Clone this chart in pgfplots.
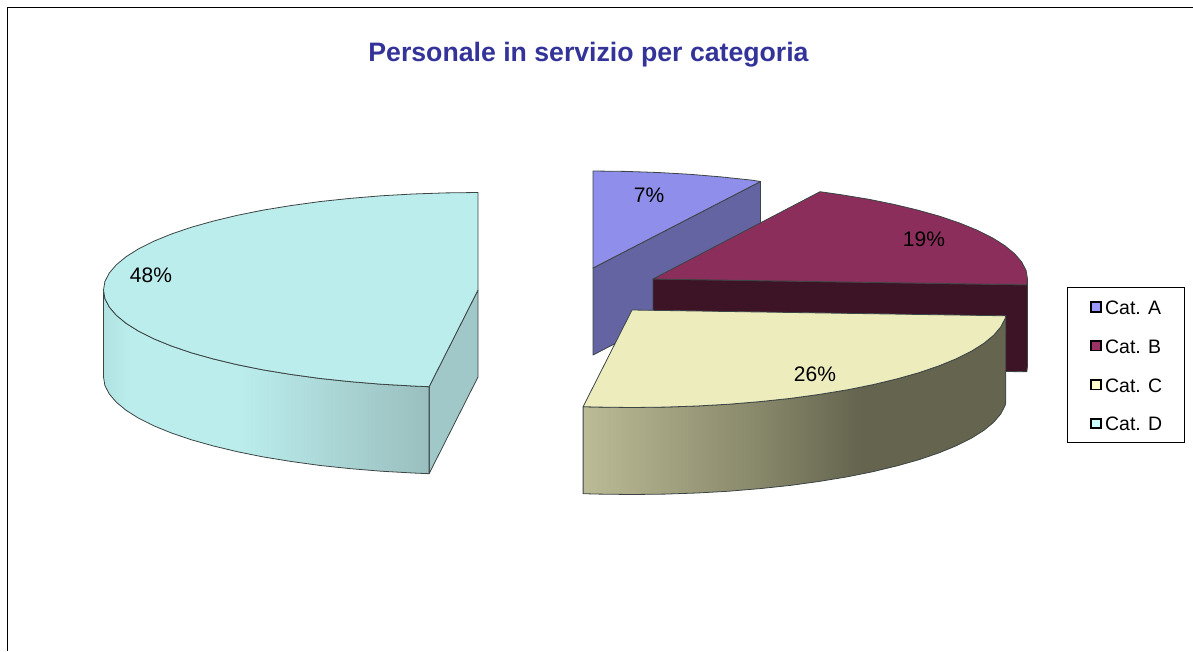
\documentclass[border=0pt]{standalone}
\usepackage{pgfplots}
\pgfplotsset{compat=1.18}
\usepackage{fontspec}
\setmainfont{Liberation Sans}
\definecolor{topA}{HTML}{8F8FEB}
\definecolor{sideA}{HTML}{6464A3}
\definecolor{topB}{HTML}{8B2E5C}
\definecolor{sideB}{HTML}{3D1426}
\definecolor{topC}{HTML}{ECECBD}
\definecolor{topD}{HTML}{BBEDED}
\definecolor{faceD}{HTML}{A1C8C8}
\definecolor{legA}{HTML}{9999FF}
\definecolor{legB}{HTML}{993366}
\definecolor{legC}{HTML}{FFFFCC}
\definecolor{legD}{HTML}{CCFFFF}
\definecolor{edge}{HTML}{3C4444}
\definecolor{titleblue}{HTML}{333399}
\definecolor{dL}{HTML}{B0E2E2}
\definecolor{dD}{HTML}{9ABEBE}
\pgfdeclarehorizontalshading{sideDsh}{100bp}{
  color(0bp)=(dL); color(25bp)=(dL);
  color(29bp)=(topD); color(46bp)=(topD);
  color(75bp)=(dD); color(100bp)=(dD)}
\definecolor{cL}{HTML}{BBBB96}
\definecolor{cM}{HTML}{8B8B6D}
\definecolor{cD}{HTML}{64644F}
\pgfdeclarehorizontalshading{sideCsh}{100bp}{
  color(0bp)=(cL); color(25bp)=(cL);
  color(44.5bp)=(cM); color(58bp)=(cD);
  color(75bp)=(cD); color(100bp)=(cD)}
\begin{document}
\begin{tikzpicture}
\begin{axis}[
  width=894.75pt, height=488.25pt, scale only axis,
  xmin=0, xmax=1193, ymin=0, ymax=651, y dir=reverse,
  hide axis, clip=true,
  legend cell align=left,
  legend style={at={(axis cs:1067,287)}, anchor=north west,
    draw=black, line width=0.7pt, inner xsep=17pt, inner ysep=9pt,
    font=\fontsize{14.6pt}{16pt}\selectfont, row sep=18.2pt,
    nodes={inner sep=0pt, text height=11pt, text depth=0pt, anchor=west}},
  pie/.style={forget plot, draw=edge, line width=0.6pt, line join=round},
]
% frame of the chart
\addplot[forget plot, draw=none] coordinates {(0,0)(1193,651)};
\addplot[forget plot, draw=black, line width=0.9pt] coordinates {(7.5,651)(7.5,7.5)(1193,7.5)};

\addlegendimage{legend image code/.code={\draw[black,line width=1.4pt,fill=legA] (3pt,-3.6pt) rectangle (10.2pt,3.6pt); \path (13.2pt,0pt);}}
\addlegendentry{Cat. A}
\addlegendimage{legend image code/.code={\draw[black,line width=1.4pt,fill=legB] (3pt,-3.6pt) rectangle (10.2pt,3.6pt); \path (13.2pt,0pt);}}
\addlegendentry{Cat. B}
\addlegendimage{legend image code/.code={\draw[black,line width=1.4pt,fill=legC] (3pt,-3.6pt) rectangle (10.2pt,3.6pt); \path (13.2pt,0pt);}}
\addlegendentry{Cat. C}
\addlegendimage{legend image code/.code={\draw[black,line width=1.4pt,fill=legD] (3pt,-3.6pt) rectangle (10.2pt,3.6pt); \path (13.2pt,0pt);}}
\addlegendentry{Cat. D}

% Cat. D
\addplot[pie, fill=faceD] coordinates {(429.1,386.7)(478,290)(478,377)(429.1,473.7)} --cycle;
\addplot[pie, shading=sideDsh, shading angle=0] coordinates {
(103.5,290)(104.9,298.5)(109.2,306.9)(116.3,315.2)(126.1,323.3)(138.6,331.2)(153.7,338.75)(171.2,345.9)(191.1,352.7)(213.2,358.9)(237.3,364.7)(263.2,369.9)(290.7,374.4)(319.7,378.4)(349.9,381.6)(381.1,384.2)(413,386)(429.1,386.7)
(429.1,473.7)(413,473)(381.1,471.2)(349.9,468.6)(319.7,465.4)(290.7,461.4)(263.2,456.9)(237.3,451.7)(213.2,445.9)(191.1,439.7)(171.2,432.9)(153.7,425.75)(138.6,418.2)(126.1,410.3)(116.3,402.2)(109.2,393.9)(104.9,385.5)(103.5,377)} --cycle;
\addplot[pie, fill=topD] coordinates {
(478,290)(478,192.5)(445.3,192.9)(413,194)(381.1,195.8)(349.9,198.4)(319.7,201.6)(290.7,205.6)(263.2,210.1)(237.3,215.3)(213.2,221.1)(191.1,227.3)(171.2,234.1)(153.7,241.25)(138.6,248.8)(126.1,256.7)(116.3,264.8)(109.2,273.1)(104.9,281.5)(103.5,290)
(104.9,298.5)(109.2,306.9)(116.3,315.2)(126.1,323.3)(138.6,331.2)(153.7,338.75)(171.2,345.9)(191.1,352.7)(213.2,358.9)(237.3,364.7)(263.2,369.9)(290.7,374.4)(319.7,378.4)(349.9,381.6)(381.1,384.2)(413,386)(429.1,386.7)} --cycle;

% Cat. A
\addplot[pie, fill=sideA] coordinates {(593,268)(760.5,181.5)(760.5,268.5)(593,355)} --cycle;
\addplot[pie, fill=topA] coordinates {(593,268)(593,171)(625.7,171.4)(658,172.5)(689.9,174.3)(721.1,176.9)(751.3,180.1)(760.5,181.5)} --cycle;

% Cat. B
\addplot[pie, fill=sideB] coordinates {(653,279)(1026.8,284.8)(1027.5,279)(1027.5,366)(1026.8,371.8)(653,366)} --cycle;
\addplot[pie, fill=topB] coordinates {(653,279)(820,191.7)(840.3,194.6)(867.8,199.1)(893.7,204.3)(917.8,210.1)(939.9,216.3)(959.8,223.1)(977.3,230.25)(992.4,237.8)(1004.9,245.7)(1014.7,253.8)(1021.8,262.1)(1026.1,270.5)(1027.5,279)(1026.8,284.8)} --cycle;

% Cat. C
\addplot[pie, shading=sideCsh, shading angle=0] coordinates {
(1005.8,315.8)(1005.1,318.5)(1000.8,326.9)(993.7,335.2)(983.9,343.3)(971.4,351.2)(956.3,358.75)(938.8,365.9)(918.9,372.7)(896.8,378.9)(872.7,384.7)(846.8,389.9)(819.3,394.4)(790.3,398.4)(760.1,401.6)(728.9,404.2)(697,406)(664.7,407.1)(632,407.5)(599.3,407.1)(583.1,406.7)
(583.1,493.7)(599.3,494.1)(632,494.5)(664.7,494.1)(697,493)(728.9,491.2)(760.1,488.6)(790.3,485.4)(819.3,481.4)(846.8,476.9)(872.7,471.7)(896.8,465.9)(918.9,459.7)(938.8,452.9)(956.3,445.75)(971.4,438.2)(983.9,430.3)(993.7,422.2)(1000.8,413.9)(1005.1,405.5)(1005.8,402.8)} --cycle;
\addplot[pie, fill=topC] coordinates {
(632,310)(1005.8,315.8)(1005.1,318.5)(1000.8,326.9)(993.7,335.2)(983.9,343.3)(971.4,351.2)(956.3,358.75)(938.8,365.9)(918.9,372.7)(896.8,378.9)(872.7,384.7)(846.8,389.9)(819.3,394.4)(790.3,398.4)(760.1,401.6)(728.9,404.2)(697,406)(664.7,407.1)(632,407.5)(599.3,407.1)(583.1,406.7)} --cycle;

% texts
\node[font=\fontsize{20pt}{22pt}\selectfont\bfseries, text=titleblue, inner sep=0pt] at (axis cs:588.5,54.5) {Personale in servizio per categoria};
\node[font=\fontsize{15.75pt}{17pt}\selectfont, inner sep=0pt] at (axis cs:649,195.5) {7\%};
\node[font=\fontsize{15.75pt}{17pt}\selectfont, inner sep=0pt] at (axis cs:924,239.5) {19\%};
\node[font=\fontsize{15.75pt}{17pt}\selectfont, inner sep=0pt] at (axis cs:815,374.5) {26\%};
\node[font=\fontsize{15.75pt}{17pt}\selectfont, inner sep=0pt] at (axis cs:151,275.5) {48\%};
\end{axis}
\end{tikzpicture}
\end{document}
